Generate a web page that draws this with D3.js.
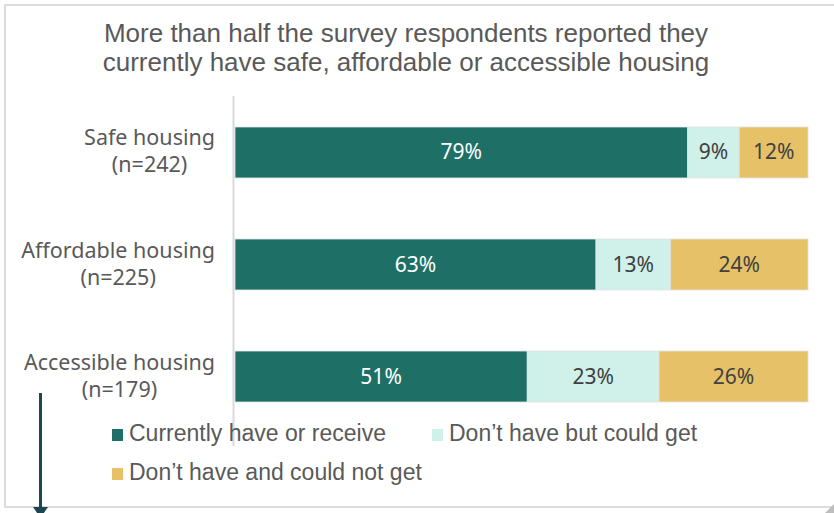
<!DOCTYPE html>
<html>
<head>
<meta charset="utf-8">
<script src="https://cdn.jsdelivr.net/npm/d3@7"></script>
<style>
  body { margin: 0; background: #fff; }
  svg { display: block; }
</style>
</head>
<body>
<svg id="chart" width="834" height="513"></svg>
<script>
const categories = ["Safe housing", "Affordable housing", "Accessible housing"];
const sampleSizes = ["(n=242)", "(n=225)", "(n=179)"];
const seriesNames = ["Currently have or receive", "Don\u2019t have but could get", "Don\u2019t have and could not get"];
const haveValues = [79, 63, 51];
const couldGetValues = [9, 13, 23];
const couldNotGetValues = [12, 24, 26];
const titleLines = ["More than half the survey respondents reported they",
                    "currently have safe, affordable or accessible housing"];

const colors = ["#1e7066", "#d0f0ea", "#e6c168"];
const textColors = ["#ffffff", "#404040", "#404040"];

const svg = d3.select("#chart");
const narrow = "'Liberation Sans Narrow', 'Arial Narrow', sans-serif";
const sans = "'Noto Sans', 'Open Sans', sans-serif";

// frame
svg.append("path")
  .attr("d", "M834,5 H5 V507 H834")
  .attr("fill", "none")
  .attr("stroke", "#dcdcdc")
  .attr("stroke-width", 2);
svg.append("path")
  .attr("d", "M825,513 L834,504 L834,513 Z")
  .attr("fill", "#bdbdbd");

// title
svg.append("g").selectAll("text")
  .data(titleLines)
  .enter()
  .append("text")
  .attr("x", 406)
  .attr("y", (d, i) => 42 + i * 29)
  .attr("text-anchor", "middle")
  .style("font-family", narrow)
  .style("font-size", "26px")
  .style("fill", "#595959")
  .text(d => d);

const x = d3.scaleLinear().domain([0, 100]).range([235, 808]);
const y = d3.scaleBand()
  .domain(categories)
  .range([127, 402])
  .paddingInner(0.545)
  .paddingOuter(0);

const rows = categories.map((c, i) => ({
  cat: c,
  vals: [haveValues[i], couldGetValues[i], couldNotGetValues[i]]
}));

// stacked segments
const g = svg.append("g");
rows.forEach(r => {
  let acc = 0;
  r.vals.forEach((v, k) => {
    const x0 = x(acc), x1 = x(acc + v);
    g.append("rect")
      .attr("x", x0)
      .attr("y", y(r.cat))
      .attr("width", x1 - x0)
      .attr("height", y.bandwidth())
      .attr("fill", colors[k])
      .attr("stroke", "#e2e2e2")
      .attr("stroke-width", 0.8);
    g.append("text")
      .attr("x", (x0 + x1) / 2)
      .attr("y", y(r.cat) + y.bandwidth() / 2 + 7)
      .attr("text-anchor", "middle")
      .style("font-family", sans)
      .style("font-size", "21px")
      .style("fill", textColors[k])
      .text(v + "%");
    acc += v;
  });
});

// axis line
svg.append("line")
  .attr("x1", 233.5).attr("x2", 233.5)
  .attr("y1", 96).attr("y2", 446)
  .attr("stroke", "#d9d9d9")
  .attr("stroke-width", 2);

// category labels: right-aligned block, lines centred
categories.forEach((c, i) => {
  const cy = y(c) + y.bandwidth() / 2;
  const lab = svg.append("g");
  const t1 = lab.append("text")
    .attr("y", cy - 7)
    .attr("text-anchor", "middle")
    .style("font-family", sans)
    .style("font-size", "21.5px")
    .style("fill", "#595959")
    .text(c);
  const t2 = lab.append("text")
    .attr("y", cy + 20)
    .attr("text-anchor", "middle")
    .style("font-family", sans)
    .style("font-size", "21.5px")
    .style("fill", "#595959")
    .text(sampleSizes[i]);
  const w = Math.max(t1.node().getComputedTextLength(), t2.node().getComputedTextLength());
  const cx = 215 - w / 2;
  t1.attr("x", cx);
  t2.attr("x", cx);
});

// legend
const legendPos = [[112, 441], [432, 441], [112, 480]];
const legend = svg.append("g");
seriesNames.forEach((s, k) => {
  const [lx, ly] = legendPos[k];
  legend.append("rect")
    .attr("x", lx).attr("y", ly - 12)
    .attr("width", 11).attr("height", 12)
    .attr("fill", colors[k]);
  legend.append("text")
    .attr("x", lx + 17).attr("y", ly)
    .style("font-family", narrow)
    .style("font-size", "23px")
    .style("fill", "#595959")
    .text(s);
});

// arrow
svg.append("line")
  .attr("x1", 40.5).attr("x2", 40.5)
  .attr("y1", 393).attr("y2", 508)
  .attr("stroke", "#1d4652")
  .attr("stroke-width", 3);
svg.append("path")
  .attr("d", "M33,507 L48,507 L40.5,518 Z")
  .attr("fill", "#1d4652");
</script>
</body>
</html>
